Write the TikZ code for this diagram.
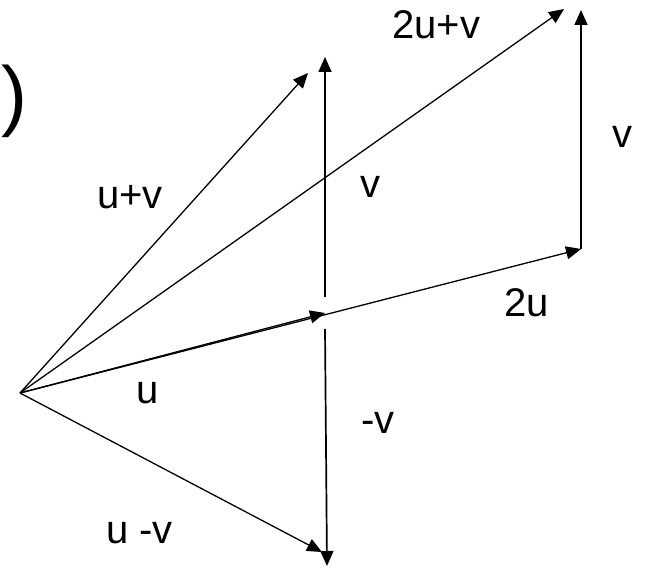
\documentclass[tikz,border=0pt]{standalone}
\usepackage{fontspec}
\setmainfont{Liberation Sans}
\usetikzlibrary{arrows.meta}
\tikzset{vec/.style={line width=1.3pt,-{Triangle[length=15pt,width=13pt]}},
  lbl/.style={anchor=base west,inner sep=0pt,font=\fontsize{40}{48}\selectfont}}
\begin{document}
\begin{tikzpicture}[x=1pt,y=-1pt]
\useasboundingbox (0,0) rectangle (647,569);
\coordinate (O) at (20,393);
\coordinate (U) at (325,313);
\coordinate (UU) at (581,249);
\coordinate (UV) at (308,73);
\coordinate (UUV) at (564,9);
\coordinate (UmV) at (322,552);
\coordinate (Vtop) at (325,57);
\coordinate (Va) at (325,297);
\coordinate (Vb) at (325,329);
\coordinate (Vbot) at (327,566);
\coordinate (Rtop) at (581,10);
\foreach \a/\b in {O/U,O/UU,O/UV,O/UUV,O/UmV}{\draw[vec] (\a)--(\b);}
\draw[vec,line width=1.7pt] (Va)--(Vtop);
\draw[vec,line width=1.7pt] (Vb)--(Vbot);
\draw[vec,line width=1.7pt] (UU)--(Rtop);
\node[lbl,font=\fontsize{78}{90}\selectfont] (par) at (1,122){)};
\node[lbl] (l2uv) at (392,39){2u+v};
\node[lbl] (lv1) at (612,148){v};
\node[lbl] (luv) at (97,209){u+v};
\node[lbl] (lv2) at (360,198){v};
\node[lbl] (l2u) at (504,316){2u};
\node[lbl] (lu) at (136,403){u};
\node[lbl] (lmv) at (361,433){-v};
\node[lbl] (lumv) at (106,543){u -v};
\end{tikzpicture}
\end{document}
